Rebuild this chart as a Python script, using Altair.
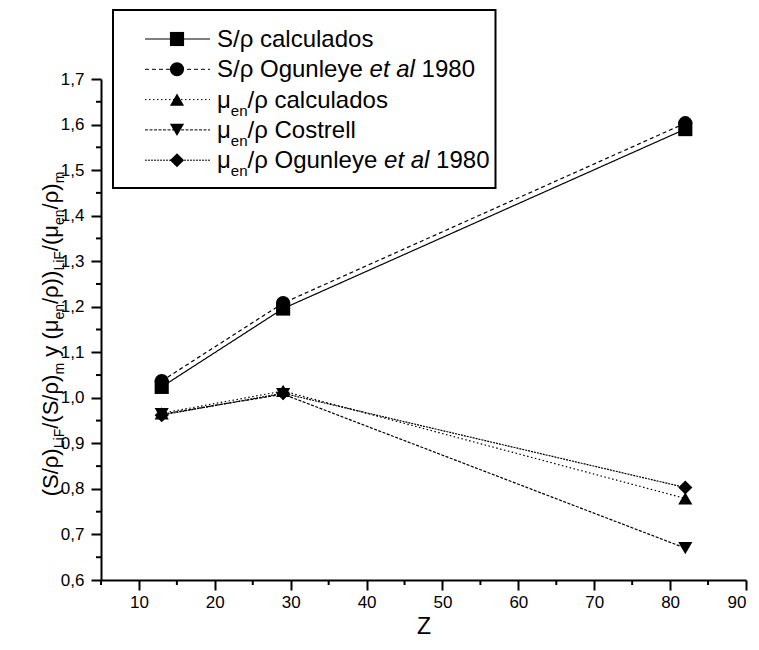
import altair as alt
import pandas as pd

# ---------------- data ----------------
Z = [13, 29, 82]
series_names = [
    "S/ρ calculados",
    "S/ρ Ogunleye et al 1980",
    "μen/ρ calculados",
    "μen/ρ Costrell",
    "μen/ρ Ogunleye et al 1980",
]
S_calc = [1.024, 1.196, 1.590]
S_ogun = [1.037, 1.208, 1.603]
mu_calc = [0.966, 1.015, 0.779]
mu_costrell = [0.964, 1.008, 0.670]
mu_ogun = [0.962, 1.010, 0.803]
values_by_series = [S_calc, S_ogun, mu_calc, mu_costrell, mu_ogun]

x_ticks = [10, 20, 30, 40, 50, 60, 70, 80, 90]
x_minor = [5, 15, 25, 35, 45, 55, 65, 75, 85]
y_ticks = [0.6, 0.7, 0.8, 0.9, 1.0, 1.1, 1.2, 1.3, 1.4, 1.5, 1.6, 1.7]
y_minor = [0.65, 0.75, 0.85, 0.95, 1.05, 1.15, 1.25, 1.35, 1.45, 1.55, 1.65]

shapes = ["square", "circle", "triangle-up", "triangle-down", "diamond"]
dashes = [[1, 0], [4, 3], [1.5, 2.5], [3, 1.5], [2, 1]]

rows = []
for name, vals in zip(series_names, values_by_series):
    for z, v in zip(Z, vals):
        rows.append({"series": name, "Z": z, "v": v})
df = pd.DataFrame(rows)

FONT = "Liberation Sans"
W, H = 645, 501

xscale = alt.Scale(domain=[5, 90], nice=False, zero=False)
yscale = alt.Scale(domain=[0.6, 1.7], nice=False, zero=False)

x_axis = alt.Axis(values=x_ticks, tickSize=10, tickWidth=2, domainWidth=2,
                  labelFontSize=17, labelPadding=4, title="Z", titleFontSize=23,
                  titleFontWeight="normal", titlePadding=5, grid=False,
                  labelFont=FONT, titleFont=FONT, labelColor="black",
                  tickColor="black", domainColor="black", titleColor="black")
y_axis = alt.Axis(values=y_ticks, tickSize=10, tickWidth=2, domainWidth=2,
                  labelFontSize=17, labelPadding=7, title=None, grid=False,
                  labelFont=FONT, labelColor="black", tickColor="black",
                  domainColor="black",
                  labelExpr="replace(format(datum.value, '.1f'), '.', ',')")

base = alt.Chart(df)
lines = base.mark_line(color="black", strokeWidth=1.2).encode(
    x=alt.X("Z:Q", scale=xscale, axis=x_axis),
    y=alt.Y("v:Q", scale=yscale, axis=y_axis),
    strokeDash=alt.StrokeDash("series:N", scale=alt.Scale(domain=series_names, range=dashes), legend=None),
)
points = base.mark_point(filled=True, size=200, color="black", opacity=1).encode(
    x=alt.X("Z:Q", scale=xscale),
    y=alt.Y("v:Q", scale=yscale),
    shape=alt.Shape("series:N", scale=alt.Scale(domain=series_names, range=shapes), legend=None),
)

minor_x = alt.Chart(pd.DataFrame({"m": x_minor})).mark_rule(color="black", strokeWidth=2).encode(
    x=alt.X("m:Q", scale=xscale), y=alt.value(H), y2=alt.value(H + 5))
minor_y = alt.Chart(pd.DataFrame({"m": y_minor})).mark_rule(color="black", strokeWidth=2).encode(
    y=alt.Y("m:Q", scale=yscale), x=alt.value(0), x2=alt.value(-5))

one = pd.DataFrame({"a": [0]})

# Arial / Liberation Sans advance widths (per 1000 em)
AW = {' ': 278, '(': 333, ')': 333, '/': 278, 'S': 667, 'L': 556, 'i': 222, 'F': 611,
      'm': 833, 'y': 500, 'e': 556, 'n': 556, 'ρ': 577, 'μ': 576, 'c': 500, 'a': 556,
      'l': 222, 'u': 556, 'd': 556, 'o': 556, 's': 500, 'O': 778, 'g': 556, 't': 278,
      '1': 556, '9': 556, '8': 556, '0': 556, 'C': 722, 'r': 333}


def tw(s, size):
    return sum(AW.get(c, 556) for c in s) * size / 1000.0


def txt(text, x, y, size, italic=False, angle=0):
    return alt.Chart(one).mark_text(
        text=text, align="left", baseline="alphabetic", fontSize=size, font=FONT,
        fontStyle="italic" if italic else "normal", angle=angle, color="black"
    ).encode(x=alt.value(x), y=alt.value(y))


def split_lead(text):
    stripped = text.lstrip(" ")
    return len(text) - len(stripped), stripped


layers = [lines, points, minor_x, minor_y]

# ---------------- legend ----------------
MAIN, SUB = 24, 15
legend_pieces = [
    [("S/ρ calculados", "n")],
    [("S/ρ Ogunleye ", "n"), ("et al", "i"), (" 1980", "n")],
    [("μ", "n"), ("en", "s"), ("/ρ calculados", "n")],
    [("μ", "n"), ("en", "s"), ("/ρ Costrell", "n")],
    [("μ", "n"), ("en", "s"), ("/ρ Ogunleye ", "n"), ("et al", "i"), (" 1980", "n")],
]
legend_layers = []
max_end = 0
for i, pieces in enumerate(legend_pieces):
    ry = -40 + 30.3 * i
    legend_layers.append(alt.Chart(one).mark_rule(color="black", strokeWidth=1, strokeDash=dashes[i]).encode(
        x=alt.value(44), x2=alt.value(109), y=alt.value(ry)))
    legend_layers.append(alt.Chart(one).mark_point(shape=shapes[i], filled=True, size=200, color="black", opacity=1).encode(
        x=alt.value(76), y=alt.value(ry)))
    cx = 116
    for text, kind in pieces:
        size = SUB if kind == "s" else MAIN
        nlead, body = split_lead(text)
        cx += nlead * AW[' '] * size / 1000.0
        yy = ry + (16 if kind == "s" else 8)
        legend_layers.append(txt(body, cx, yy, size, italic=(kind == "i")))
        cx += tw(body, size)
    max_end = max(max_end, cx)

box = alt.Chart(one).mark_rect(fill="white", stroke="black", strokeWidth=2).encode(
    x=alt.value(12), x2=alt.value(max_end + 6), y=alt.value(-69), y2=alt.value(109))
layers.append(box)
layers.extend(legend_layers)

# ---------------- y-axis title (with subscripts) ----------------
TM, TS = 22, 14
title_pieces = [("(S/ρ)", "n"), ("LiF", "s"), ("/(S/ρ)", "n"), ("m", "s"), (" y (μ", "n"),
                ("en", "s"), ("/ρ))", "n"), ("LiF", "s"), ("/(μ", "n"), ("en", "s"),
                ("/ρ)", "n"), ("m", "s")]
total = sum(tw(t, TS if k == "s" else TM) for t, k in title_pieces)
start = 255 + total / 2
base_x = -43.5
cum = 0.0
for text, kind in title_pieces:
    size = TS if kind == "s" else TM
    nlead, body = split_lead(text)
    cum += nlead * AW[' '] * size / 1000.0
    xx = base_x + 6 if kind == "s" else base_x
    layers.append(txt(body, xx, start - cum, size, angle=270))
    cum += tw(body, size)

chart = alt.layer(*layers).properties(
    width=W, height=H,
    autosize=alt.AutoSizeParams(type="none"),
    padding={"left": 93, "top": 71, "right": 5, "bottom": 62},
).configure_view(stroke=None)

chart.save("out.html", embed_options={"renderer": "svg", "actions": False})
